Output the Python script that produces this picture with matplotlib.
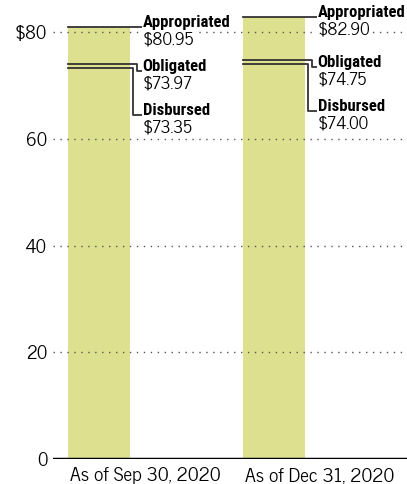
import matplotlib
matplotlib.use("Agg")
import matplotlib.pyplot as plt
from matplotlib import font_manager

# data ---------------------------------------------------------------------
periods = ["As of Sep 30, 2020", "As of Dec 31, 2020"]
appropriated = [80.95, 82.90]
obligated = [73.97, 74.75]
disbursed = [73.35, 74.00]
yticks = [0, 20, 40, 60, 80]
ytick_labels = ["0", "20", "40", "60", "$80"]

names = {f.name for f in font_manager.fontManager.ttflist}


def pick(*cands):
    for c in cands:
        if c in names:
            return c
    return "DejaVu Sans"


REG = pick("News Cycle", "Roboto Condensed", "Liberation Sans")
BOLD = pick("Roboto Condensed", "News Cycle", "Liberation Sans")
plt.rcParams["font.family"] = REG

BAR = "#dde08f"
LINE = "#333333"

fig = plt.figure(figsize=(4.07, 4.84), dpi=100)
ax = fig.add_axes([0.13, 0.0517, 0.87, 0.937])
ax.set_xlim(-0.526, 1.497)
ax.set_ylim(0, 85)

bw, off = 0.354, 0.265
for i in range(len(periods)):
    left = i - off - bw / 2
    right = left + bw
    ax.bar(i - off, appropriated[i], width=bw, color=BAR, zorder=1)

    # connectors: straight for appropriated, elbows for the two close values
    lx = right + 0.074
    ax.plot([left, lx - 0.005], [appropriated[i]] * 2, color=LINE, lw=1.3, zorder=3)
    ob_y = obligated[i] - 1.2
    di_y = ob_y - 8.3
    ax.plot([left, right + 0.040, right + 0.040, lx - 0.005],
            [obligated[i], obligated[i], ob_y, ob_y], color=LINE, lw=1.3, zorder=3)
    ax.plot([left, right + 0.017, right + 0.017, lx - 0.005],
            [disbursed[i], disbursed[i], di_y, di_y], color=LINE, lw=1.3, zorder=3)

    for y, name, val in [(appropriated[i], "Appropriated", appropriated[i]),
                         (ob_y, "Obligated", obligated[i]),
                         (di_y, "Disbursed", disbursed[i])]:
        ax.text(lx, y - 3.3, f"${val:.2f}", fontsize=12.5, va="baseline", ha="left",
                zorder=4, bbox=dict(fc="white", ec="none", pad=0.2))
        ax.text(lx, y, name, fontsize=12, fontweight="bold", family=BOLD,
                va="baseline", ha="left", zorder=5,
                bbox=dict(fc="white", ec="none", pad=0.2))

# dotted gridlines over bars
for y in yticks[1:]:
    ax.axhline(y, color="#555555", lw=1, linestyle=(0, (1, 4)), zorder=2)
ax.axhline(0, color="black", lw=2.5, zorder=6)

ax.set_yticks(yticks)
ax.set_yticklabels(ytick_labels, fontsize=13.5)
ax.set_xticks(range(len(periods)))
ax.set_xticklabels(periods, fontsize=14)
ax.tick_params(axis="y", length=0, pad=4)
ax.tick_params(axis="x", length=0, pad=6)
for s in ax.spines.values():
    s.set_visible(False)

fig.savefig("out.png", dpi=100)
